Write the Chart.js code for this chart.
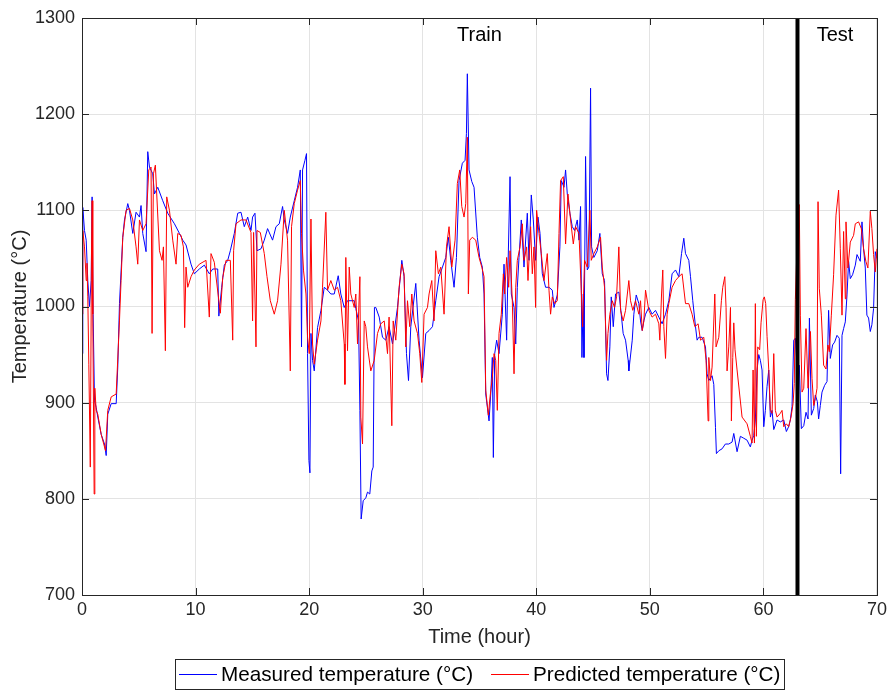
<!DOCTYPE html>
<html>
<head>
<meta charset="utf-8">
<script src="https://cdn.jsdelivr.net/npm/chart.js@4.4.1/dist/chart.umd.min.js"></script>
<style>
  html, body { margin: 0; padding: 0; background: #fff; }
  canvas { display: block; }
</style>
</head>
<body>
<canvas id="chart" width="891" height="691"></canvas>
<script>
// axis ticks
const hourTicks = [0, 10, 20, 30, 40, 50, 60, 70];
const tempTicks = [700, 800, 900, 1000, 1100, 1200, 1300];

// train / test split
const splitHour = 63;
const phaseNames = ['Train', 'Test'];
const phaseHours = [35, 66.3];

// measured temperature (blue)
const measuredHours = [
  0, 0.07, 0.22, 0.37, 0.51, 0.66, 0.81, 0.89, 0.98, 1.10, 1.25, 1.39, 1.69, 1.98, 2.13, 2.27, 2.57, 3.01,
  3.15, 3.30, 3.59, 3.74, 4.03, 4.18, 4.47, 4.76, 5.06, 5.20, 5.35, 5.64, 5.79, 5.94, 6.23, 6.38, 6.67,
  7.11, 7.55, 8.14, 8.58, 8.87, 9.16, 9.60, 9.89, 10.33, 10.77, 11.21, 11.51, 11.95,
  12.05, 12.30, 12.53, 12.83, 13.06, 13.41, 13.71, 14.00, 14.29, 14.59, 14.88, 15.02, 15.23, 15.41, 15.76,
  16.05, 16.34, 16.78, 17.08, 17.37, 17.66, 17.81, 18.10, 18.34, 18.69, 18.98, 19.22, 19.33, 19.42, 19.63,
  19.77, 19.86, 19.98, 20.07, 20.16, 20.30, 20.45, 20.74, 21.04, 21.33, 21.62, 21.91, 22.21, 22.56, 22.79,
  23.09, 23.38, 23.97,
  24.11, 24.35, 24.47, 24.58, 24.76, 24.99, 25.14, 25.34, 25.52, 25.64, 25.75, 25.87, 26.17, 26.46, 26.75,
  27.04, 27.34, 27.78, 28.16, 28.36, 28.57, 28.75, 28.95, 29.39, 29.68, 29.98, 30.27, 30.56, 30.86, 31.15,
  31.44, 31.74, 32.03, 32.26, 32.47, 32.76, 32.97, 33.20, 33.49, 33.73, 33.85, 33.93, 34.08, 34.32, 34.52,
  34.81, 35.02, 35.25, 35.40, 35.55, 35.84,
  35.99, 36.13, 36.22, 36.34, 36.51, 36.72, 37.01, 37.16, 37.39, 37.51, 37.69, 37.80, 38.04, 38.19, 38.33,
  38.48, 38.68, 38.92, 39.21, 39.36, 39.56, 39.74, 39.94, 40.15, 40.33, 40.53, 40.82, 41.12, 41.41, 41.56,
  41.85, 42.08, 42.20, 42.44, 42.58, 42.73, 42.96, 43.17, 43.37, 43.61, 43.76, 43.90, 44.02, 44.14, 44.20,
  44.34, 44.49, 44.63, 44.78, 44.87, 45.07, 45.37, 45.60, 45.81, 46.01, 46.19, 46.31, 46.48, 46.60, 46.78,
  46.98, 47.27, 47.42, 47.65,
  47.86, 48.09, 48.15, 48.45, 48.59, 48.80, 49.03, 49.18, 49.33, 49.47, 49.62, 49.91, 50.20, 50.50, 50.79,
  51.08, 51.38, 51.67, 51.96, 52.26, 52.55, 52.79, 52.99, 53.14, 53.43, 53.58, 53.78, 54.02, 54.16, 54.31,
  54.60, 54.90, 55.04, 55.19, 55.48, 55.63, 55.78, 55.86, 56.07, 56.36, 56.65, 56.95, 57.24,
  57.39, 57.68, 57.97, 58.27, 58.56, 58.85, 59.00, 59.15, 59.29, 59.44, 59.59, 59.73, 59.88, 60.03, 60.17,
  60.32, 60.47, 60.61, 60.76, 60.91, 61.20, 61.49, 61.79, 62.02, 62.22, 62.37, 62.52, 62.67, 62.81,
  63.05, 63.16, 63.34, 63.55, 63.75, 63.93, 64.05, 64.22, 64.43, 64.57, 64.75, 64.86, 65.01, 65.16, 65.39,
  65.60, 65.74, 65.89, 66.09, 66.27, 66.48, 66.68, 66.80, 66.92, 67.06, 67.21, 67.36, 67.50, 67.65, 67.85,
  68.09, 68.24, 68.53, 68.68, 68.82, 68.97, 69.11, 69.26, 69.41, 69.55, 69.70, 69.85, 70.0
];
const measuredTemp = [
  951, 1103, 1079, 1069, 1027, 1000, 1027, 1114, 992, 902, 895, 885, 867, 857, 845, 888, 899, 899,
  937, 1003, 1072, 1090, 1107, 1100, 1076, 1098, 1093, 1105, 1076, 1057, 1161, 1145, 1138, 1117, 1124,
  1110, 1097, 1086, 1076, 1069, 1064, 1044, 1034, 1039, 1043, 1034, 1039, 1039,
  990, 1020, 1043, 1048, 1058, 1076, 1097, 1098, 1083, 1093, 1079, 1093, 1097, 1058, 1060,
  1069, 1081, 1069, 1083, 1086, 1104, 1090, 1076, 1093, 1110, 1124, 1142, 958, 1142, 1152,
  1159, 951, 840, 827, 972, 944, 933, 978, 996, 1020, 1017, 1013, 1013, 1032, 1013,
  999, 1006, 1006,
  998, 985, 892, 779, 798, 801, 807, 805, 829, 833, 999, 999, 989, 968, 965,
  979, 961, 999, 1048, 1031, 951, 923, 979, 1024, 965, 926, 972, 975, 979, 1006,
  1031, 1041, 1051, 1072, 1048, 1020, 1051, 1131, 1149, 1152, 1180, 1242, 1142, 1130, 1124,
  1072, 1051, 1041, 1013, 909, 881,
  909, 947, 843, 951, 965, 951, 992, 1044, 965, 1041, 1135, 1013, 999, 961, 1020,
  1051, 1090, 1041, 1097, 1048, 1116, 1090, 1048, 1093, 1076, 1034, 1020, 1020, 1017, 999,
  1012, 1062, 1131, 1124, 1142, 1117, 1097, 1083, 1079, 1090, 1069, 1104, 947, 1013, 947,
  1156, 1038, 1041, 1227, 1062, 1051, 1058, 1076, 1034, 1027, 930, 923, 958, 1010, 979,
  1013, 1015, 999, 972,
  965, 944, 933, 965, 992, 1012, 1003, 985, 975, 985, 992, 999, 992, 996, 989,
  982, 992, 1006, 1034, 1038, 1031, 1055, 1071, 1055, 1048, 1031, 1006, 979, 965, 968,
  968, 958, 930, 923, 928, 919, 874, 847, 850, 852, 857, 857, 859,
  868, 849, 865, 863, 861, 854, 861, 866, 882, 934, 950, 944, 934, 875, 892,
  917, 934, 885, 892, 872, 882, 880, 882, 870, 875, 882, 896, 965, 967,
  922, 939, 873, 876, 890, 883, 988, 887, 894, 908, 901, 883, 897, 911, 918,
  922, 996, 946, 960, 963, 970, 967, 826, 970, 977, 984, 1012, 1047, 1029, 1033,
  1043, 1054, 1047, 1088, 1060, 1040, 991, 988, 974, 981, 998, 1057, 1050
];

// predicted temperature (red)
const predictedHours = [
  0, 0.07, 0.22, 0.37, 0.44, 0.51, 0.60, 0.73, 0.84, 0.89, 0.95, 1.07, 1.13, 1.25, 1.39, 1.69, 2.07, 2.27,
  2.57, 3.01, 3.30, 3.44, 3.59, 3.88, 4.18, 4.47, 4.76, 4.91, 5.06, 5.35, 5.64, 5.88, 6.08, 6.17, 6.29,
  6.46, 6.58, 6.82, 7.05, 7.17, 7.34, 7.46, 7.70, 7.99, 8.28, 8.43, 8.72, 8.93, 9.04, 9.16, 9.31, 9.60,
  9.89, 10.33, 10.92, 11.21, 11.36, 11.65,
  12.18, 12.39, 12.68, 13.06, 13.27, 13.35, 13.56, 14.00, 14.44, 14.88, 15.02, 15.11, 15.32, 15.41, 15.70,
  16.05, 16.29, 16.58, 16.93, 17.22, 17.52, 17.81, 18.10, 18.34, 18.45, 18.69, 18.98, 19.22, 19.33, 19.51,
  19.72, 19.86, 20.01, 20.16, 20.30, 20.45, 20.74, 21.04, 21.18, 21.47, 21.62, 21.91, 22.21, 22.50, 22.79,
  23.09, 23.15, 23.23, 23.38, 23.53, 23.67, 23.97,
  24.11, 24.26, 24.47, 24.55, 24.70, 24.85, 24.99, 25.14, 25.43, 25.73, 26.02, 26.31, 26.61, 26.90, 27.04,
  27.28, 27.40, 27.63, 27.92, 28.16, 28.36, 28.51, 28.66, 28.86, 29.04, 29.24, 29.54, 29.74, 29.92, 30.12,
  30.42, 30.56, 30.80, 31.00, 31.15, 31.38, 31.59, 31.88, 32.09, 32.32, 32.56, 32.85, 33.05, 33.26, 33.44,
  33.64, 33.79, 33.93, 34.02, 34.14, 34.37, 34.67, 34.96, 35.20, 35.40, 35.55, 35.78,
  35.93, 36.13, 36.28, 36.43, 36.57, 36.72, 36.92, 37.10, 37.22, 37.39, 37.57, 37.69, 37.89, 38.04, 38.19,
  38.33, 38.57, 38.77, 38.92, 39.15, 39.27, 39.50, 39.65, 39.80, 39.94, 40.03, 40.24, 40.44, 40.68, 40.97,
  41.12, 41.26, 41.41, 41.62, 41.85, 42.00, 42.14, 42.38, 42.58, 42.79, 43.02, 43.26, 43.46, 43.76, 43.96,
  44.08, 44.25, 44.49, 44.72, 44.84, 45.07, 45.37, 45.66, 45.81, 46.01, 46.19, 46.31, 46.48, 46.69, 46.89,
  47.07, 47.27, 47.42, 47.65,
  47.86, 48.15, 48.30, 48.50, 48.74, 49.03, 49.18, 49.33, 49.47, 49.62, 49.91, 50.20, 50.50, 50.79, 50.88,
  51.03, 51.14, 51.23, 51.38, 51.52, 51.67, 51.96, 52.26, 52.55, 52.84, 53.14, 53.43, 53.72, 53.96, 54.25,
  54.46, 54.75, 54.95, 55.13, 55.19, 55.34, 55.48, 55.72, 55.83, 56.07, 56.30, 56.42, 56.60, 56.71, 56.80,
  56.95, 57.10, 57.18, 57.30,
  57.39, 57.50, 57.68, 58.12, 58.56, 58.85, 59.00, 59.09, 59.21, 59.29, 59.38, 59.50, 59.67, 59.79, 59.97,
  60.08, 60.20, 60.32, 60.47, 60.61, 60.76, 60.91, 61.05, 61.20, 61.49, 61.64, 61.79, 62.02, 62.22, 62.43,
  62.61, 62.72, 62.81, 62.95,
  63.16, 63.25, 63.40, 63.55, 63.75, 63.93, 64.14, 64.28, 64.43, 64.57, 64.72, 64.81, 64.92, 65.10, 65.30,
  65.51, 65.68, 65.80, 65.98, 66.18, 66.39, 66.62, 66.77, 66.92, 67.06, 67.21, 67.27, 67.44, 67.65, 67.94,
  68.09, 68.38, 68.62, 68.82, 69.02, 69.20, 69.41, 69.55, 69.70, 69.85, 70.0
];
const predictedTemp = [
  992, 1079, 1062, 1027, 1045, 1010, 940, 833, 1062, 1110, 992, 805, 915, 892, 888, 867, 850, 892,
  906, 909, 985, 1027, 1072, 1100, 1102, 1090, 1062, 1044, 1090, 1079, 1086, 1142, 1145, 972, 1138,
  1147, 1117, 1058, 1048, 1062, 954, 1114, 1100, 1069, 1044, 1076, 1074, 1062, 978, 1041, 1020, 1031,
  1038, 1044, 1048, 989, 1055, 1046,
  993, 1030, 1048, 1048, 965, 1058, 1086, 1090, 1090, 1077, 985, 1077, 958, 1079, 1077,
  1055, 1031, 1006, 992, 1006, 1044, 1100, 1069, 933, 1083, 1107, 1121, 1131, 1076, 1037,
  1013, 968, 951, 1091, 961, 940, 965, 985, 1020, 1098, 1017, 1027, 1017, 1020, 1006,
  961, 919, 1051, 954, 1041, 1013, 999,
  1013, 961, 1031, 885, 857, 985, 979, 958, 933, 944, 972, 982, 985, 951, 989,
  876, 985, 965, 1020, 1044, 1034, 958, 1006, 979, 1013, 985, 972, 951, 921, 992,
  999, 1013, 1027, 985, 1058, 1034, 1041, 992, 1062, 1083, 1041, 1069, 1128, 1142, 1104,
  1093, 1107, 1176, 1013, 1069, 1072, 1069, 1051, 1041, 1031, 913, 887,
  906, 926, 951, 944, 892, 972, 992, 1034, 1013, 1051, 1020, 1058, 1006, 930, 1020,
  1048, 1062, 1086, 1048, 1062, 1027, 1083, 1034, 1062, 999, 1100, 1076, 1055, 1027, 1055,
  1017, 992, 1010, 1003, 1006, 1076, 1131, 1135, 1065, 1117, 1090, 1065, 1083, 1076, 1017,
  979, 1048, 1041, 1100, 1048, 1055, 1062, 1072, 1041, 1020, 944, 972, 992, 1006, 999,
  1010, 1062, 996, 985,
  996, 1027, 1006, 996, 1006, 992, 1006, 975, 985, 1017, 996, 989, 992, 982, 965,
  1013, 1038, 979, 946, 992, 1003, 1020, 1027, 1031, 1034, 1003, 1003, 992, 979, 982,
  965, 968, 944, 881, 947, 923, 937, 1013, 958, 968, 1006, 1020, 1031, 999, 933,
  958, 999, 881, 947,
  983, 955, 934, 885, 878, 865, 858, 934, 858, 1003, 865, 958, 955, 983, 1007,
  1010, 1003, 969, 934, 892, 889, 951, 892, 885, 889, 892, 875, 878, 875, 885,
  899, 920, 1007, 1060,
  1106, 991, 911, 915, 977, 915, 974, 925, 897, 904, 915, 1109, 1019, 991, 939,
  935, 960, 953, 991, 1033, 1095, 1121, 1060, 991, 1078, 1008, 1088, 1040, 1067, 1074,
  1086, 1088, 1081, 1060, 1047, 1040, 1099, 1081, 1054, 1036, 1060
];

const legendLabels = ['Measured temperature (\u00b0C)', 'Predicted temperature (\u00b0C)'];
const seriesColors = ['#0000ff', '#ff0000'];

const toPoints = (xs, ys) => xs.map((h, i) => ({ x: h, y: ys[i] }));

Chart.defaults.font.family = '"Liberation Sans", Arial, Helvetica, sans-serif';
const axisColor = '#262626';

const framePlugin = {
  id: 'frame',
  afterDraw(chart) {
    const { ctx, chartArea: a, scales } = chart;
    ctx.save();
    // inward tick marks
    ctx.strokeStyle = axisColor;
    ctx.lineWidth = 1;
    const tl = 7;
    ctx.beginPath();
    tempTicks.forEach(v => {
      const y = Math.round(scales.y.getPixelForValue(v)) + 0.5;
      ctx.moveTo(a.left, y); ctx.lineTo(a.left + tl, y);
      ctx.moveTo(a.right, y); ctx.lineTo(a.right - tl, y);
    });
    hourTicks.forEach(v => {
      const x = Math.round(scales.x.getPixelForValue(v)) + 0.5;
      ctx.moveTo(x, a.bottom); ctx.lineTo(x, a.bottom - tl);
      ctx.moveTo(x, a.top); ctx.lineTo(x, a.top + tl);
    });
    ctx.stroke();
    // box
    ctx.strokeStyle = axisColor;
    ctx.strokeRect(Math.round(a.left) + 0.5, Math.round(a.top) + 0.5,
      Math.round(a.right - a.left), Math.round(a.bottom - a.top));

    // phase labels
    ctx.fillStyle = '#000';
    ctx.font = '20px "Liberation Sans", Arial, sans-serif';
    ctx.textAlign = 'center';
    ctx.textBaseline = 'middle';
    phaseNames.forEach((name, i) => {
      ctx.fillText(name, scales.x.getPixelForValue(phaseHours[i]), a.top + 17);
    });

    // legend with frame
    ctx.font = '20.7px "Liberation Sans", Arial, sans-serif';
    ctx.textAlign = 'left';
    const w = legendLabels.map(t => ctx.measureText(t).width);
    const pad = 4, lineW = 38, gap = 4, itemGap = 18;
    const total = pad + lineW + gap + w[0] + itemGap + lineW + gap + w[1] + pad;
    const cx = (a.left + a.right) / 2;
    let x = Math.round(cx - total / 2);
    const top = 659, h = 30, midY = top + h / 2;
    ctx.fillStyle = '#fff';
    ctx.fillRect(x, top, total, h);
    ctx.strokeStyle = axisColor;
    ctx.strokeRect(x + 0.5, top + 0.5, Math.round(total), h);
    x += pad;
    legendLabels.forEach((label, i) => {
      ctx.strokeStyle = seriesColors[i];
      ctx.beginPath();
      ctx.moveTo(x, midY + 0.5); ctx.lineTo(x + lineW, midY + 0.5);
      ctx.stroke();
      x += lineW + gap;
      ctx.fillStyle = '#000';
      ctx.fillText(label, x, midY + 1);
      x += w[i] + itemGap;
    });
    ctx.restore();
  }
};

new Chart(document.getElementById('chart'), {
  type: 'line',
  data: {
    datasets: [
      {
        label: legendLabels[0],
        data: toPoints(measuredHours, measuredTemp),
        borderColor: seriesColors[0],
        borderWidth: 1,
        pointRadius: 0,
        order: 2
      },
      {
        label: legendLabels[1],
        data: toPoints(predictedHours, predictedTemp),
        borderColor: seriesColors[1],
        borderWidth: 1,
        pointRadius: 0,
        order: 1
      },
      {
        label: 'split',
        data: [{ x: splitHour, y: tempTicks[0] }, { x: splitHour, y: tempTicks[tempTicks.length - 1] }],
        borderColor: '#000',
        borderWidth: 4,
        pointRadius: 0,
        order: 0
      }
    ]
  },
  options: {
    responsive: false,
    animation: false,
    devicePixelRatio: 1,
    layout: { padding: { top: 18, right: 13, left: 0, bottom: 0 } },
    plugins: {
      legend: { display: false },
      tooltip: { enabled: false }
    },
    scales: {
      x: {
        type: 'linear',
        min: hourTicks[0],
        max: hourTicks[hourTicks.length - 1],
        afterBuildTicks: s => { s.ticks = hourTicks.map(v => ({ value: v })); },
        afterFit: s => { s.height = 96; },
        grid: { color: '#e3e3e3', drawTicks: false },
        border: { display: false },
        ticks: { padding: 4, color: axisColor, font: { size: 18 }, maxRotation: 0, callback: v => String(v) },
        title: { display: true, text: 'Time (hour)', color: axisColor, font: { size: 20 }, padding: { top: 0, bottom: 42 } }
      },
      y: {
        type: 'linear',
        min: tempTicks[0],
        max: tempTicks[tempTicks.length - 1],
        afterBuildTicks: s => { s.ticks = tempTicks.map(v => ({ value: v })); },
        afterFit: s => { s.width = 82; },
        grid: { color: '#e3e3e3', drawTicks: false },
        border: { display: false },
        ticks: { padding: 7, color: axisColor, font: { size: 18 }, callback: v => String(v) },
        title: { display: true, text: 'Temperature (\u00b0C)', color: axisColor, font: { size: 20 }, padding: { top: 8, bottom: 0 } }
      }
    }
  },
  plugins: [framePlugin]
});
</script>
</body>
</html>
